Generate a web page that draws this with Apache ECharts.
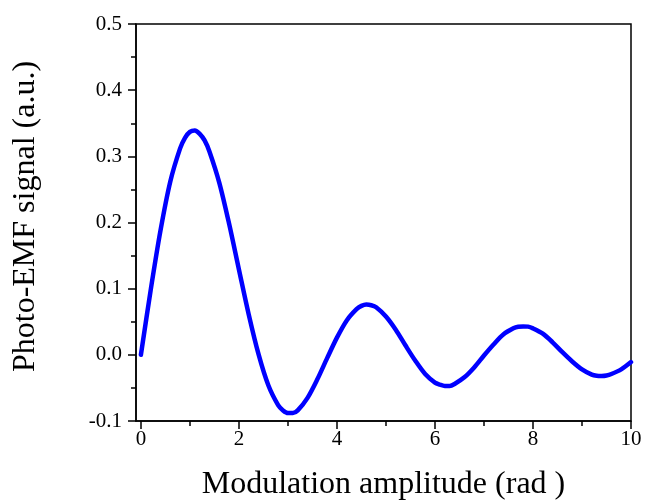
<!DOCTYPE html>
<html>
<head>
<meta charset="utf-8">
<script src="https://cdn.jsdelivr.net/npm/echarts@6/dist/echarts.min.js"></script>
<style>
  html, body { margin: 0; padding: 0; background: #fff; }
  #chart { width: 646px; height: 502px; }
</style>
</head>
<body>
<div id="chart"></div>
<script>
// modulation amplitude (rad) and photo-EMF signal
const xs = [0, 0.2, 0.4, 0.6, 0.8, 0.9, 1.0, 1.1, 1.2, 1.3, 1.4, 1.6, 1.8,
  2.0, 2.2, 2.4, 2.6, 2.8, 2.9, 3.0, 3.1, 3.2, 3.4, 3.6, 3.8,
  4.0, 4.2, 4.4, 4.5, 4.6, 4.7, 4.8, 5.0, 5.2, 5.4, 5.6, 5.8,
  6.0, 6.1, 6.2, 6.3, 6.4, 6.6, 6.8, 7.0, 7.2, 7.4, 7.6, 7.7, 7.8, 7.9,
  8.0, 8.2, 8.4, 8.6, 8.8, 9.0, 9.2, 9.3, 9.4, 9.5, 9.6, 9.8, 10.0];
const signal = [0, 0.098, 0.188, 0.262, 0.312, 0.328, 0.337, 0.339, 0.334, 0.324, 0.307, 0.260, 0.198,
  0.129, 0.061, 0.001, -0.046, -0.076, -0.084, -0.088, -0.088, -0.084, -0.065, -0.037, -0.005,
  0.026, 0.052, 0.069, 0.074, 0.076, 0.075, 0.072, 0.058, 0.038, 0.014, -0.009, -0.029,
  -0.042, -0.045, -0.047, -0.047, -0.044, -0.034, -0.019, -0.001, 0.016, 0.031, 0.040, 0.0425, 0.043, 0.0426,
  0.040, 0.032, 0.019, 0.004, -0.010, -0.022, -0.030, -0.0317, -0.032, -0.0313, -0.029, -0.022, -0.011];
const xMajor = [0, 2, 4, 6, 8, 10];
const xMinor = [1, 3, 5, 7, 9];

const font = "'Liberation Serif', 'Times New Roman', serif";
const chart = echarts.init(document.getElementById('chart'));

chart.setOption({
  animation: false,
  grid: {
    left: 136, right: 15, top: 24, bottom: 81,
    outerBoundsMode: 'none',
    show: true, borderColor: '#000', borderWidth: 1.5, backgroundColor: 'transparent'
  },
  xAxis: [{
    type: 'value', min: -0.1, max: 10,
    name: 'Modulation amplitude (rad )', nameLocation: 'middle', nameGap: 48,
    nameTextStyle: { fontFamily: font, fontSize: 32, color: '#000' },
    axisLine: { onZero: false, lineStyle: { color: '#000', width: 1.5 } },
    axisTick: { show: true, inside: false, length: 8, customValues: xMajor, lineStyle: { color: '#000', width: 1.5 } },
    axisLabel: { customValues: xMajor, margin: 8, fontFamily: font, fontSize: 21, color: '#000' },
    splitLine: { show: false }
  }, {
    type: 'value', min: -0.1, max: 10, position: 'bottom',
    axisLine: { show: false, onZero: false },
    axisTick: { show: true, inside: false, length: 5, customValues: xMinor, lineStyle: { color: '#000', width: 1.5 } },
    axisLabel: { show: false },
    splitLine: { show: false }
  }],
  yAxis: {
    type: 'value', min: -0.1, max: 0.5, interval: 0.1,
    name: 'Photo-EMF signal (a.u.)', nameLocation: 'middle', nameGap: 94,
    nameTextStyle: { fontFamily: font, fontSize: 32, color: '#000', padding: [0, 0, 0, 12] },
    axisLine: { show: true, onZero: false, lineStyle: { color: '#000', width: 1.5 } },
    axisTick: { show: true, inside: false, length: 8, lineStyle: { color: '#000', width: 1.5 } },
    minorTick: { show: true, splitNumber: 2, length: 5, lineStyle: { color: '#000', width: 1.5 } },
    axisLabel: { margin: 14, fontFamily: font, fontSize: 21, color: '#000', formatter: v => v.toFixed(1) },
    splitLine: { show: false }
  },
  series: [{
    type: 'line',
    xAxisIndex: 0,
    data: xs.map((x, i) => [x, signal[i]]),
    smooth: 0.3,
    smoothConstraint: false,
    showSymbol: false,
    lineStyle: { color: '#0000ff', width: 4.5, cap: 'round' }
  }]
});
</script>
</body>
</html>
